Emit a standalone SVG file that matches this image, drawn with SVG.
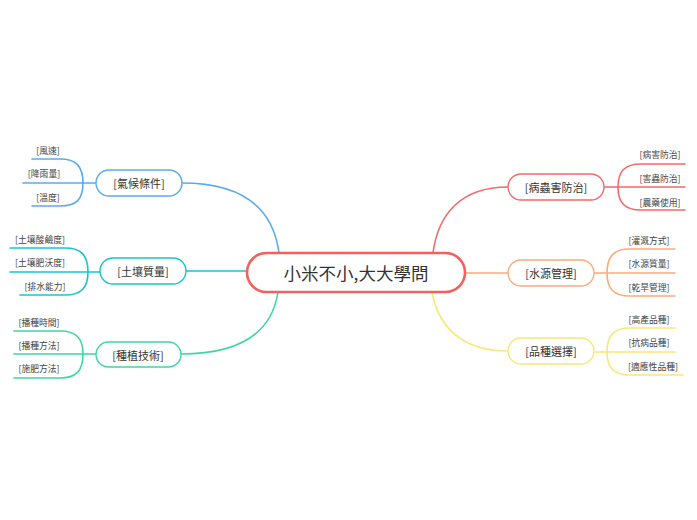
<svg xmlns="http://www.w3.org/2000/svg" width="697" height="520" viewBox="0 0 697 520">
<style>
text{font-family:"Noto Sans CJK TC","Noto Sans CJK SC",sans-serif;fill:#333;text-anchor:middle;dominant-baseline:central}
.c{font-size:8.8px;fill:#444}
.b{font-size:11px}
.m{font-size:17.5px}
.ln{fill:none;stroke-width:1.6;stroke-linecap:round}
.nd{fill:#fff;stroke-width:1.4}
.blue{stroke:#5aaaf0}.cyan{stroke:#1ac3d1}.green{stroke:#3ed6a2}.red{stroke:#f36a6a}.orange{stroke:#fdab78}.yellow{stroke:#fbe67a}
</style>
<rect width="697" height="520" fill="#fff"/>
<g id="connectors">
<path class="ln blue" d="M182,183 C250,183 274,215 279,253" stroke-width="2"/>
<path class="ln cyan" d="M186,271 L247,271" stroke-width="2"/>
<path class="ln green" d="M181,354 C250,354 273,325 278,292" stroke-width="2"/>
<path class="ln red" d="M508,187 C460,187 438,215 433,253" stroke-width="2"/>
<path class="ln orange" d="M508,273 L465,273" stroke-width="2"/>
<path class="ln yellow" d="M508,351 C460,351 438,325 432,292" stroke-width="2"/>
<path class="ln blue" d="M96,183 L23,183 M83,183 C83,166 76,159 60,159 L32,159 M83,183 C83,200 76,206 60,206 L32,206"/>
<path class="ln cyan" d="M100,272 L10,272 M88,272 C88,255 81,248 65,248 L10,248 M88,272 C88,288 81,295 65,295 L20,295"/>
<path class="ln green" d="M96,354 L14,354 M83,354 C83,338 76,331 60,331 L14,331 M83,354 C83,371 76,378 60,378 L14,378"/>
<path class="ln red" d="M604,187 L685,187 M618,187 C618,171 625,164 641,164 L685,164 M618,187 C618,203 625,210 641,210 L685,210"/>
<path class="ln orange" d="M594,273 L675,273 M607,273 C607,256 614,249 630,249 L675,249 M607,273 C607,289 614,296 630,296 L675,296"/>
<path class="ln yellow" d="M594,352 L675,352 M607,352 C607,335 614,328 630,328 L675,328 M607,352 C607,368 614,375 630,375 L683,375"/>
</g>
<g id="center">
<rect x="247" y="253" width="218" height="39" rx="19.5" fill="#fff" stroke="#f36060" stroke-width="2.6"/>
<text class="m" x="356" y="272.5">小米不小,大大學問</text>
</g>
<g id="n-climate"><rect class="nd blue" x="96" y="170" width="86" height="26" rx="13"/><text class="b" x="139" y="183">[氣候條件]</text></g>
<g id="n-soil"><rect class="nd cyan" x="100" y="258" width="86" height="26" rx="13"/><text class="b" x="143" y="271">[土壤質量]</text></g>
<g id="n-plant"><rect class="nd green" x="96" y="342" width="85" height="25" rx="12.5"/><text class="b" x="138" y="354.5">[種植技術]</text></g>
<g id="n-pest"><rect class="nd red" x="508" y="174" width="96" height="26" rx="13"/><text class="b" x="556" y="187">[病蟲害防治]</text></g>
<g id="n-water"><rect class="nd orange" x="508" y="260" width="86" height="26" rx="13"/><text class="b" x="551" y="273">[水源管理]</text></g>
<g id="n-variety"><rect class="nd yellow" x="508" y="338" width="86" height="26" rx="13"/><text class="b" x="551" y="351">[品種選擇]</text></g>
<g id="c-climate"><text class="c" x="48" y="150">[風速]</text><text class="c" x="44" y="173">[降雨量]</text><text class="c" x="48" y="197">[溫度]</text></g>
<g id="c-soil"><text class="c" x="40" y="239">[土壤酸鹼度]</text><text class="c" x="40" y="262">[土壤肥沃度]</text><text class="c" x="45" y="286">[排水能力]</text></g>
<g id="c-plant"><text class="c" x="39" y="322">[播種時間]</text><text class="c" x="39" y="345">[播種方法]</text><text class="c" x="39" y="368">[施肥方法]</text></g>
<g id="c-pest"><text class="c" x="660" y="154">[病害防治]</text><text class="c" x="660" y="178">[害蟲防治]</text><text class="c" x="660" y="202">[農藥使用]</text></g>
<g id="c-water"><text class="c" x="649" y="240">[灌溉方式]</text><text class="c" x="649" y="263">[水源質量]</text><text class="c" x="649" y="287">[乾旱管理]</text></g>
<g id="c-variety"><text class="c" x="649" y="319">[高產品種]</text><text class="c" x="649" y="342">[抗病品種]</text><text class="c" x="653" y="366">[適應性品種]</text></g>
</svg>
